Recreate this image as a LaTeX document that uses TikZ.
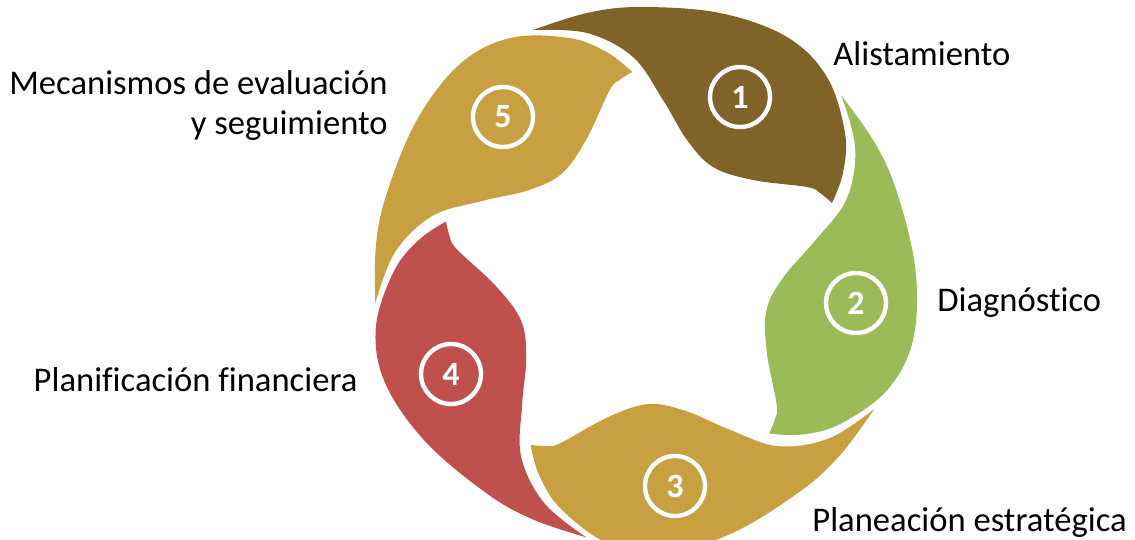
\documentclass[tikz,border=0pt]{standalone}
\usepackage{fontspec}
\setmainfont{Carlito}[Ligatures=NoCommon]
\usetikzlibrary{positioning}
\definecolor{leafbrown}{RGB}{127,99,40}
\definecolor{leafgreen}{RGB}{155,187,89}
\definecolor{leaftan}{RGB}{200,160,66}
\definecolor{leafred}{RGB}{192,80,77}

\begin{document}
\begin{tikzpicture}[
        x=0.5pt, y=-0.5pt,
        number/.style={
                circle,
                draw=white,
                line width=2.2pt,
                minimum size=30pt,
                inner sep=0pt,
                text=white,
                font=\fontsize{17}{17}\selectfont\bfseries,
            },
        caption/.style={
                text=black,
                inner sep=0pt,
                font=\fontsize{17.3}{20}\selectfont,
            }
    ]
    \useasboundingbox (0,0) rectangle (1135,540);

    % five leaves, each one turned a further 72 degrees clockwise
    \foreach \k/\tone in {0/leafbrown,1/leafgreen,2/leaftan,3/leafred,4/leaftan}{
        \fill[\tone, rotate around={-72*\k:(642,275)}]
            plot[smooth, tension=0.6] coordinates {(533,30) (587,13) (640,7) (720,13) (787,37) (827,77) (845,133) (843,173) (832,203)}
            -- plot[smooth, tension=0.6] coordinates {(832,203) (820,193) (807,187) (753,180) (713,167) (687,140) (663,100) (633,57) (587,33) (533,30)}
            -- cycle;
    }

    \node[number] (n1) at (740,97) {1};
    \node[number] (n2) at (856,303) {2};
    \node[number] (n3) at (675,486) {3};
    \node[number] (n4) at (451,374) {4};
    \node[number] (n5) at (503,117) {5};

    \node[caption, anchor=west] (alist) at (833,54) {Alistamiento};
    \node[caption, anchor=west] (diag) at (937,303) {Diagnóstico};
    \node[caption, anchor=west] (plan) at (812,522) {Planeación estratégica};
    \node[caption, anchor=east] (finan) at (358,380) {Planificación financiera};
    \node[caption, anchor=east, align=right] (meca) at (388,105) {Mecanismos de evaluación\\y seguimiento};
\end{tikzpicture}
\end{document}
